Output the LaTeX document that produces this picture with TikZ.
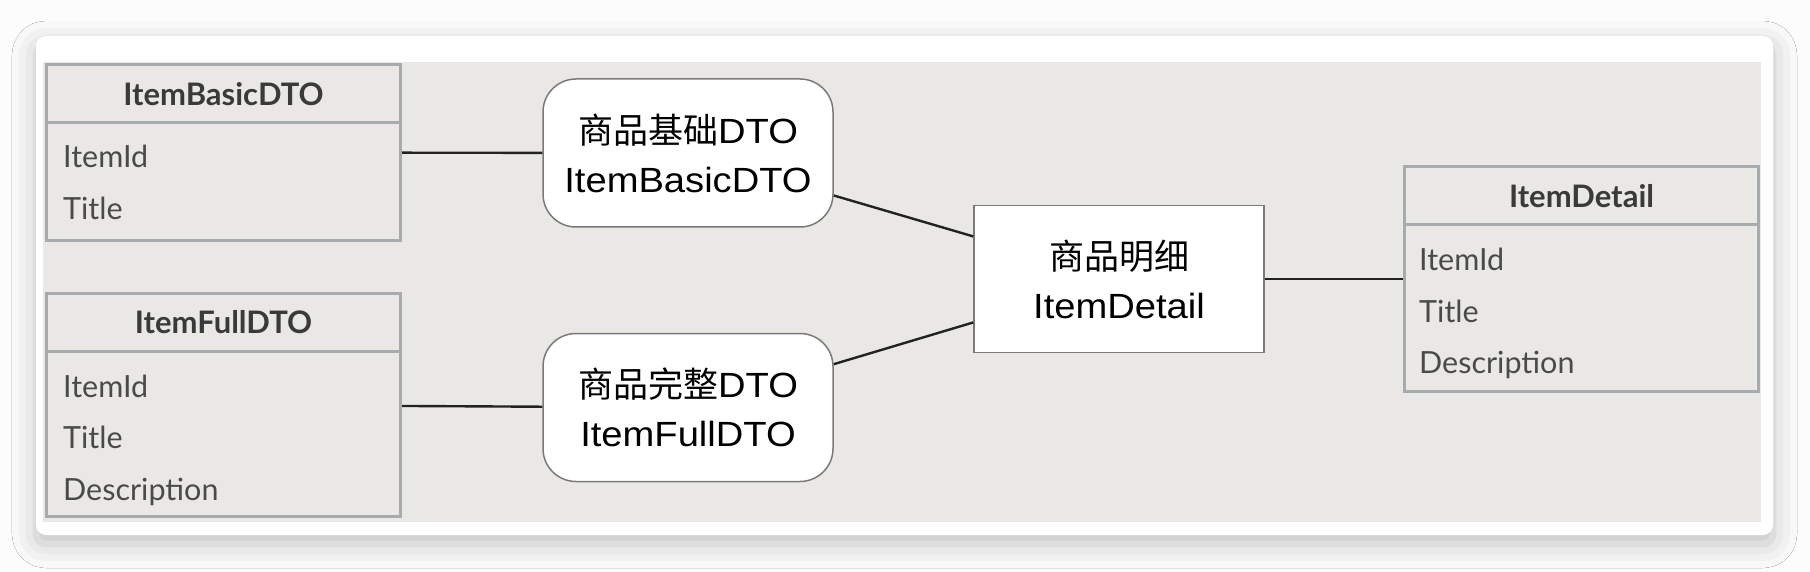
\documentclass[tikz,border=0pt]{standalone}
\usepackage{fontspec}
\setmainfont{Lato}
\newfontfamily\cjk{Noto Sans CJK SC}
\newfontfamily\boxfont[FakeStretch=1.09]{Liberation Sans}
\usetikzlibrary{shadows,shadows.blur,positioning}
\definecolor{pagebg}{HTML}{FCFCFC}
\definecolor{panelgray}{HTML}{E9E8E5}
\definecolor{tblgray}{HTML}{A6ABAD}
\definecolor{boxgray}{HTML}{7A7A7A}
\definecolor{linegray}{HTML}{222222}
\definecolor{headtext}{HTML}{3A3A3A}
\definecolor{fieldtext}{HTML}{4A4A4A}

\begin{document}
\begin{tikzpicture}[
        x=1pt, y=-1pt,
        tbl/.style={draw=tblgray, line width=3pt, minimum width=354pt},
        tblhead/.style={tbl, anchor=north, minimum height=58.5pt,
                        font=\fontsize{31}{36}\selectfont\bfseries, text=headtext},
        field/.style={anchor=base west, inner sep=0pt,
                      font=\fontsize{30.5}{36}\selectfont, text=fieldtext},
        dto/.style={draw=boxgray, line width=1.5pt, fill=white, rounded corners=33pt,
                    minimum width=290pt, minimum height=148pt, align=center,
                    font=\boxfont\fontsize{35}{49}\selectfont},
        entity/.style={dto, sharp corners},
        link/.style={draw=linegray, line width=2.4pt},
    ]
        % --- page and card ---
        \fill[pagebg] (0,0) rectangle (1810,572);
        \useasboundingbox (0,0) rectangle (1810,572);
        \fill[white, rounded corners=10pt,
              blur shadow={shadow xshift=0pt, shadow yshift=-9pt,
                           shadow blur radius=24pt, shadow opacity=24}]
             (36,36) rectangle (1773,535);
        \fill[panelgray] (43,62) rectangle (1761,522);

        % --- DTO tables (left) ---
        \node[tbl, minimum height=176pt] (basic) at (223.5,152.5) {};
        \node[tblhead] (basicHead) at (basic.north) {ItemBasicDTO};
        \node[field] (basicId)    at (63,168) {ItemId};
        \node[field] (basicTitle) at (63,220) {Title};

        \node[tbl, minimum height=223pt] (full) at (223.5,405) {};
        \node[tblhead, minimum height=57.5pt] (fullHead) at (full.north) {ItemFullDTO};
        \node[field] (fullId)    at (63,397) {ItemId};
        \node[field] (fullTitle) at (63,448) {Title};
        \node[field] (fullDesc)  at (63,500) {Description};

        % --- DTO names ---
        \node[dto] (basicDto) at (688,153) {{\cjk 商品基础}DTO\\ItemBasicDTO};
        \node[dto] (fullDto)  at (688,407.5) {{\cjk 商品完整}DTO\\ItemFullDTO};

        % --- entity ---
        \node[entity, minimum height=147pt] (itemDetail) at (1119,279) {{\cjk 商品明细}\\ItemDetail};

        % --- entity table (right) ---
        \node[tbl, minimum height=225pt] (detail) at (1581.5,279) {};
        \node[tblhead] (detailHead) at (detail.north) {ItemDetail};
        \node[field] (detailId)    at (1419,270) {ItemId};
        \node[field] (detailTitle) at (1419,322) {Title};
        \node[field] (detailDesc)  at (1419,373) {Description};

        % --- links ---
        \draw[link] (basic) -- (basicDto);
        \draw[link] (full) -- (fullDto);
        \draw[link] (basicDto) -- (itemDetail);
        \draw[link] (fullDto) -- (itemDetail);
        \draw[link] (itemDetail) -- (detail);

    \end{tikzpicture}
\end{document}
